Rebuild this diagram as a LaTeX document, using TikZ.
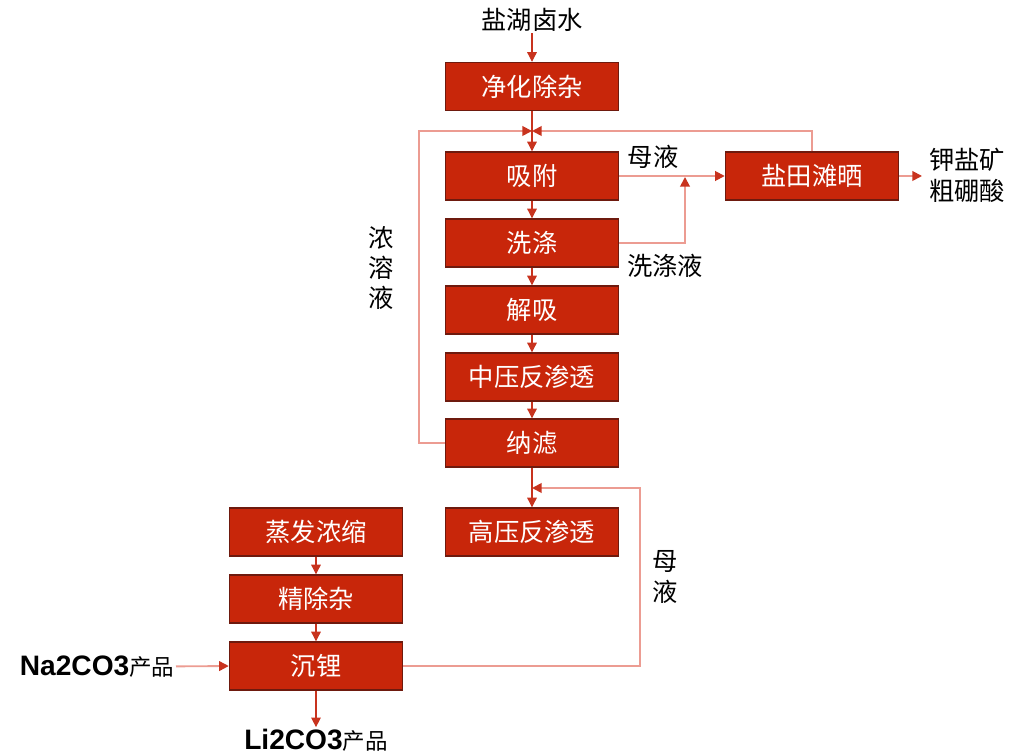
\documentclass[tikz,border=0pt]{standalone}
\usepackage{fontspec}
\setmainfont{Noto Sans CJK SC}
\newfontfamily\latbold{Liberation Sans}
\usepackage{xcolor}
\usetikzlibrary{arrows.meta}
\definecolor{boxred}{HTML}{C8260A}
\definecolor{boxedge}{HTML}{6E1A0E}
\definecolor{linered}{HTML}{C8331E}
\definecolor{linepale}{HTML}{EC9C92}

\begin{document}
\begin{tikzpicture}[x=0.025cm, y=-0.025cm,
    proc/.style={draw=boxedge, line width=1pt, fill=boxred, text=white, minimum width=4.325cm, minimum height=1.2cm, inner sep=0pt, font=\fontsize{18}{20}\selectfont},
    lbl/.style={font=\fontsize{18}{22}\selectfont, align=center, inner sep=1pt},
    flow/.style={-{Triangle[length=2.4mm, width=2.4mm]}, draw=linered, line width=0.8pt},
    back/.style={-{Triangle[length=2.4mm, width=2.4mm, color=linered]}, draw=linepale, line width=1.3pt}
]
\useasboundingbox (0,0) rectangle (1020,754);
% MAIN COLUMN
\node[lbl] (src) at (532,20) {盐湖卤水};
\node[proc] (p1) at (532,86.5) {净化除杂};
\node[proc] (p2) at (532,176) {吸附};
\node[proc] (p3) at (532,243) {洗涤};
\node[proc] (p4) at (532,310) {解吸};
\node[proc] (p5) at (532,377) {中压反渗透};
\node[proc] (p6) at (532,443) {纳滤};
\node[proc] (p7) at (532,532) {高压反渗透};
% SALT FIELD
\node[proc] (s1) at (812,176) {盐田滩晒};
\node[lbl, align=left] (prod1) at (967,175) {钾盐矿\\粗硼酸};
% LEFT COLUMN
\node[proc] (q1) at (316,532) {蒸发浓缩};
\node[proc] (q2) at (316,599) {精除杂};
\node[proc] (q3) at (316,666) {沉锂};
\node[lbl, anchor=east] (na) at (176,667) {{\latbold\bfseries\fontsize{20}{22}\selectfont Na2CO3}{\fontsize{16}{18}\selectfont 产品}};
\node[lbl] (li) at (316,740) {{\latbold\bfseries\fontsize{20}{22}\selectfont Li2CO3}{\fontsize{16}{18}\selectfont 产品}};
% LABELS
\node[lbl] (ml1) at (653,157) {母液};
\node[lbl] (wl) at (665,266) {洗涤液};
\node[lbl, font=\fontsize{18}{21.5}\selectfont] (nr) at (381,268) {浓\\溶\\液};
\node[lbl, font=\fontsize{18}{22.5}\selectfont] (ml2) at (665,577) {母\\液};
% meeting points
\coordinate (m1) at (532,131);
\coordinate (m2) at (685,177);
\coordinate (m3) at (532,488);
\coordinate (out1) at (922,176);
% main flow
\draw[flow] (src) -- (p1);
\draw[flow] (p1) -- (p2);
\draw[flow] (p2) -- (p3);
\draw[flow] (p3) -- (p4);
\draw[flow] (p4) -- (p5);
\draw[flow] (p5) -- (p6);
\draw[flow] (p6) -- (p7);
\draw[flow] (q1) -- (q2);
\draw[flow] (q2) -- (q3);
\draw[flow] (q3) -- (li);
% returns
\draw[back] (p6.west) -- ++(-26,0) |- (m1);
\draw[back] (s1.north) |- (m1);
\draw[back] (p2.east) -- (s1.west);
\draw[back] (p3.east) -| (m2);
\draw[back] (s1.east) -- (out1);
\draw[back] (q3.east) -- ++(237,0) |- (m3);
\draw[back] (na) -- (q3.west);
\end{tikzpicture}
\end{document}
